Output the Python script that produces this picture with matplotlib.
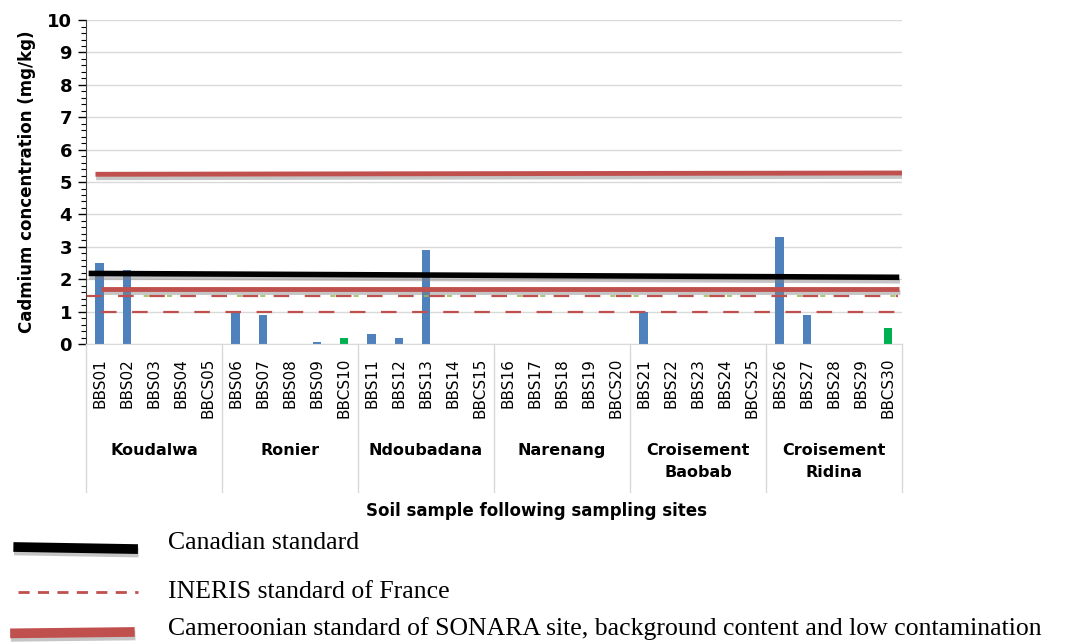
import numpy as np
import matplotlib
matplotlib.use("Agg")
import matplotlib.pyplot as plt
import matplotlib.patheffects as pe
from matplotlib.lines import Line2D
from matplotlib.ticker import MultipleLocator

samples = ['BBS01', 'BBS02', 'BBS03', 'BBS04', 'BBCS05',
           'BBS06', 'BBS07', 'BBS08', 'BBS09', 'BBCS10',
           'BBS11', 'BBS12', 'BBS13', 'BBS14', 'BBCS15',
           'BBS16', 'BBS17', 'BBS18', 'BBS19', 'BBCS20',
           'BBS21', 'BBS22', 'BBS23', 'BBS24', 'BBCS25',
           'BBS26', 'BBS27', 'BBS28', 'BBS29', 'BBCS30']
sites = ['Koudalwa', 'Ronier', 'Ndoubadana', 'Narenang',
         'Croisement\nBaobab', 'Croisement\nRidina']

# sample soils (blue) and control soils (green)
cd_samples = [2.5, 2.3, 0, 0, 0,
              1.0, 0.9, 0, 0.05, 0,
              0.3, 0.2, 2.9, 0, 0,
              0, 0, 0, 0, 0,
              1.0, 0, 0, 0, 0,
              3.3, 0.9, 0, 0, 0]
cd_control = [0, 0, 0, 0, 0,
              0, 0, 0, 0, 0.2,
              0, 0, 0, 0, 0,
              0, 0, 0, 0, 0,
              0, 0, 0, 0, 0,
              0, 0, 0, 0, 0.5]

# standards (start, end) as drawn
canadian = [2.18, 2.06]
ineris = [1.0, 1.47]
cameroon = [1.7, 5.28]

blue = '#4f81bd'
green = '#00b050'
red = '#c0504d'

fig = plt.figure(figsize=(10.73, 6.44), dpi=100)
ax = fig.add_axes([0.0801, 0.4658, 0.7605, 0.503])

x = np.arange(len(samples))
ax.bar(x, cd_samples, width=0.3, color=blue, zorder=2)
ax.bar(x, cd_control, width=0.3, color=green, zorder=2)

shadow = [pe.SimpleLineShadow(offset=(0.5, -2.5), shadow_color='gray', alpha=0.45), pe.Normal()]

# dashed INERIS lines
ax.plot([-0.45, 29.35], [ineris[1], ineris[1]], color='#9bbb59', lw=1.2,
        linestyle=(8, (3, 11)), zorder=3)
ax.plot([-0.45, 29.35], [ineris[1], ineris[1]], color=red, lw=1.6,
        linestyle=(0, (7, 7)), zorder=3)
ax.plot([0.05, 29.35], [ineris[0], ineris[0]], color=red, lw=1.6,
        linestyle=(0, (7, 7)), zorder=3)

# Cameroonian standard
ax.plot([0.05, 29.4], [cameroon[0], cameroon[0]], color=red, lw=3.5,
        solid_capstyle='butt', path_effects=shadow, zorder=3)
ax.plot([-0.15, 29.5], [cameroon[1] - 0.04, cameroon[1]], color=red, lw=3.5,
        solid_capstyle='butt', path_effects=shadow, zorder=3)

# Canadian standard
ax.plot([-0.4, 29.4], canadian, color='black', lw=4,
        solid_capstyle='butt', path_effects=shadow, zorder=4)

ax.set_xlim(-0.5, 29.5)
ax.set_ylim(0, 10)
ax.yaxis.set_major_locator(MultipleLocator(1))
ax.yaxis.set_minor_locator(MultipleLocator(0.2))
ax.grid(axis='y', color='#d9d9d9', lw=1, zorder=0)
ax.set_axisbelow(True)
for s in ['top', 'right']:
    ax.spines[s].set_visible(False)
ax.spines['bottom'].set_color('#d9d9d9')
ax.spines['left'].set_color('#404040')
ax.tick_params(axis='y', which='major', length=6, width=1, labelsize=13, pad=4)
ax.tick_params(axis='y', which='minor', length=3.5, width=0.8)
for lab in ax.get_yticklabels():
    lab.set_fontweight('bold')

ax.set_xticks(x)
ax.set_xticklabels(samples, rotation=90, fontsize=11)
ax.tick_params(axis='x', length=0, pad=10)

ax.set_ylabel('Cadmium concentration (mg/kg)', fontsize=12, fontweight='bold', labelpad=8)

# site groups below the axis
trans = ax.get_xaxis_transform()
for i in range(len(sites) + 1):
    ax.plot([i * 5 - 0.5, i * 5 - 0.5], [0, -0.457], transform=trans,
            color='#d9d9d9', lw=1, clip_on=False)
for i, site in enumerate(sites):
    ax.text(i * 5 + 2, -0.305, site, transform=trans, ha='center', va='top',
            fontsize=11.5, fontweight='bold', linespacing=1.6)

fig.text(0.5, 0.207, 'Soil sample following sampling sites', ha='center', va='center',
         fontsize=12, fontweight='bold')

# legend drawn below the chart
leg_y = [0.1495, 0.0807, 0.0186]
txt_y = [0.157, 0.0807, 0.0235]
leg_txt = ['Canadian standard', 'INERIS standard of France',
           'Cameroonian standard of SONARA site, background content and low contamination']
fig.add_artist(Line2D([0.017, 0.124], [leg_y[0] + 0.001, leg_y[0] - 0.002], color='black', lw=7,
                      path_effects=shadow))
fig.add_artist(Line2D([0.017, 0.129], [leg_y[1], leg_y[1]], color=red, lw=2,
                      linestyle=(0, (4, 3))))
fig.add_artist(Line2D([0.014, 0.121], [leg_y[2] - 0.002, leg_y[2]], color=red, lw=7,
                      path_effects=shadow))
for yy, t in zip(txt_y, leg_txt):
    fig.text(0.157, yy, t, ha='left', va='center', fontsize=18.5,
             family='Liberation Serif')

fig.savefig('out.png', dpi=100)
